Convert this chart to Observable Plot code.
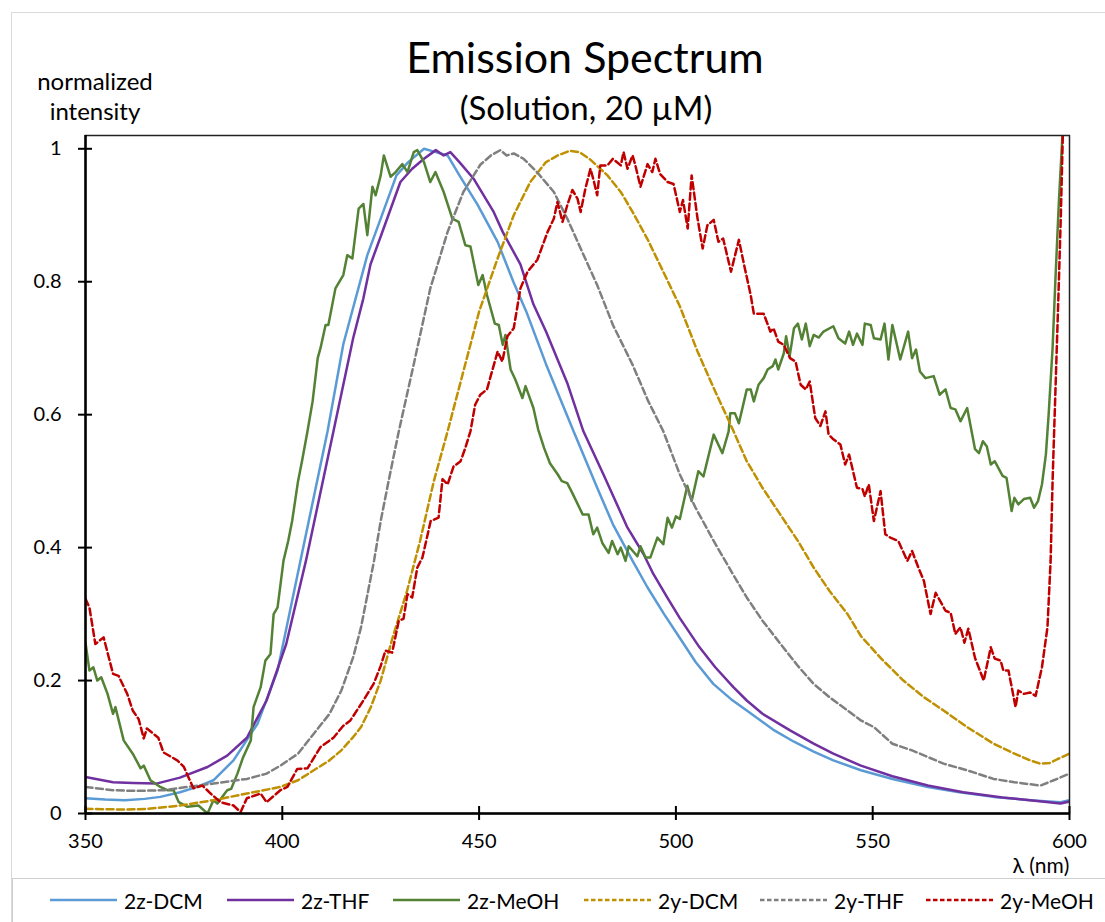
<!DOCTYPE html>
<html>
<head>
<meta charset="utf-8">
<script src="https://cdn.jsdelivr.net/npm/d3@7"></script>
<script src="https://cdn.jsdelivr.net/npm/@observablehq/plot@0.6"></script>
<style>
  body { margin: 0; background: #fff; font-family: Lato, "Open Sans", sans-serif; color: #000; }
  #wrap { position: relative; width: 1105px; height: 922px; overflow: hidden; }
  #outer { position: absolute; left: 11px; top: 12px; width: 1200px; height: 1000px; border: 1px solid #d9d9d9; }
  #chart { position: absolute; left: 0; top: 0; }
  .t { position: absolute; white-space: nowrap; }
  #title { left: 585px; top: 31px; transform: translateX(-50%); font-size: 43px; }
  #subtitle { left: 586px; top: 87px; transform: translateX(-50%); font-size: 33px; }
  #ylab { left: 95px; top: 66px; transform: translateX(-50%); font-size: 24px; text-align: center; line-height: 30px; }
  #xlab { left: 1041px; top: 855px; transform: translateX(-50%); font-size: 21px; line-height: 20px; }
  #legend { position: absolute; left: 12px; top: 878px; width: 1200px; height: 50px; border: 1px solid #cfcfcf; background: #fff; box-sizing: border-box; font-size: 21px; }
  .item { position: absolute; top: 0; height: 42px; display: flex; align-items: center; }
  .item svg { margin-right: 7px; }
</style>
</head>
<body>
<div id="wrap">
  <div id="outer"></div>
  <div id="chart"></div>
  <div class="t" id="title">Emission Spectrum</div>
  <div class="t" id="subtitle">(Solution, 20 µM)</div>
  <div class="t" id="ylab">normalized<br>intensity</div>
  <div class="t" id="xlab">λ (nm)</div>
  <div id="legend"></div>
</div>
<script>
// ---------------- data ----------------
const seriesNames = ["2z-DCM", "2z-THF", "2z-MeOH", "2y-DCM", "2y-THF", "2y-MeOH"];
const xTicks = [350, 400, 450, 500, 550, 600];
const yTicks = [0, 0.2, 0.4, 0.6, 0.8, 1];

const wl2zDCM = [350, 355, 360, 365, 369, 374, 378.4, 382.5, 387.6, 393.7, 398.8, 404.6, 411.5, 415.5, 421.6, 425, 429, 432, 436, 439, 442, 445, 449.6, 454.7, 458.7, 462, 467, 474, 480, 484, 489, 492.8, 497, 501, 505, 509.5, 514, 518, 525, 530, 535, 540, 547, 555, 564, 572, 580.7, 590, 597.7, 600];
const int2zDCM = [0.023, 0.021, 0.02, 0.022, 0.025, 0.032, 0.04, 0.05, 0.08, 0.135, 0.215, 0.38, 0.575, 0.706, 0.84, 0.895, 0.96, 0.98, 1.0, 0.995, 0.99, 0.96, 0.916, 0.86, 0.80, 0.755, 0.676, 0.575, 0.49, 0.435, 0.38, 0.34, 0.30, 0.264, 0.228, 0.195, 0.172, 0.155, 0.125, 0.108, 0.093, 0.08, 0.065, 0.052, 0.04, 0.032, 0.025, 0.02, 0.017, 0.02];

const wl2zTHF = [350, 357, 362, 368, 374, 381, 386, 391, 396, 401, 406, 413, 418, 420.6, 422.4, 425, 430, 433, 436, 439, 441, 442.7, 445, 448.6, 453.7, 456, 460.5, 463.8, 467, 472.5, 476.5, 481.6, 487.7, 491.8, 494.3, 497.9, 501, 506, 510, 514.6, 518, 522, 529, 535, 540, 547, 555, 564, 573, 583, 590, 597.7, 600];
const int2zTHF = [0.055, 0.047, 0.046, 0.045, 0.054, 0.07, 0.087, 0.114, 0.17, 0.255, 0.38, 0.575, 0.715, 0.775, 0.826, 0.868, 0.95, 0.97, 0.985, 0.998, 0.99, 0.995, 0.98, 0.955, 0.905, 0.875, 0.826, 0.766, 0.725, 0.646, 0.575, 0.51, 0.43, 0.39, 0.36, 0.324, 0.294, 0.25, 0.22, 0.19, 0.17, 0.15, 0.125, 0.105, 0.09, 0.072, 0.056, 0.042, 0.032, 0.024, 0.02, 0.015, 0.018];

const wl2zMeOH = [350, 351, 352, 353, 354, 355.6, 357, 357.6, 359.7, 362, 364, 364.8, 366.5, 369, 370.8, 372.4, 373.7, 375.9, 378.7, 381, 382.5, 383.5, 386, 387, 388.6, 390, 392, 392.7, 394.5, 395.7, 397, 397.8, 398.8, 400.3, 401.5, 402.5, 404, 405, 406.4, 407.7, 409, 409.7, 411, 411.7, 413.5, 415.5, 416.5, 417.8, 419.4, 420.6, 421.6, 422.9, 423.7, 425, 425.8, 427.5, 428.8, 430.5, 431.8, 433.4, 434.3, 436, 437.6, 438.9, 441, 443.2, 444.8, 446.5, 447.8, 449.8, 450.9, 452, 454, 455, 456, 456.7, 458, 459.2, 461, 461.8, 463.8, 465, 466.5, 468, 470, 471, 472.4, 473.7, 476.3, 477.8, 479, 480, 481.3, 482.9, 483.8, 485.2, 486, 487.2, 488, 490.2, 491, 492.3, 493.5, 495.3, 496.8, 497.9, 499, 500, 501, 502.9, 504, 505.7, 507, 509.6, 511.8, 513.4, 513.8, 515, 516, 517.3, 518, 519, 519.8, 521, 522.3, 523.3, 524.6, 525.3, 526, 527.4, 528, 528.9, 530, 531, 532, 533, 534, 535, 536.3, 537.5, 540, 541.3, 543, 544, 545, 546, 547.4, 548, 549.5, 550.3, 552, 553, 554, 555, 557, 559, 560, 561, 562, 563.4, 565.5, 567, 568.5, 569.8, 571, 572.3, 574, 576, 577, 578, 579, 580, 581, 583, 584, 585.3, 586, 587, 588.4, 590, 591, 592, 593, 594, 594.7, 595.7, 596.4, 597.3, 598.2];
const int2zMeOH = [0.257, 0.215, 0.22, 0.2, 0.205, 0.18, 0.15, 0.16, 0.11, 0.09, 0.068, 0.072, 0.05, 0.04, 0.035, 0.035, 0.017, 0.01, 0.012, 0.0, 0.02, 0.015, 0.035, 0.037, 0.06, 0.084, 0.11, 0.16, 0.19, 0.23, 0.24, 0.30, 0.31, 0.38, 0.41, 0.44, 0.50, 0.53, 0.575, 0.62, 0.685, 0.70, 0.735, 0.735, 0.79, 0.81, 0.84, 0.835, 0.91, 0.917, 0.87, 0.943, 0.93, 0.96, 0.99, 0.958, 0.965, 0.977, 0.965, 0.995, 0.998, 0.98, 0.95, 0.965, 0.935, 0.895, 0.89, 0.855, 0.853, 0.795, 0.81, 0.78, 0.737, 0.735, 0.705, 0.72, 0.668, 0.653, 0.625, 0.643, 0.61, 0.578, 0.55, 0.527, 0.51, 0.5, 0.497, 0.482, 0.45, 0.45, 0.42, 0.43, 0.407, 0.392, 0.41, 0.39, 0.40, 0.38, 0.402, 0.387, 0.402, 0.385, 0.385, 0.415, 0.405, 0.445, 0.43, 0.447, 0.443, 0.493, 0.47, 0.515, 0.507, 0.57, 0.542, 0.575, 0.602, 0.602, 0.587, 0.62, 0.638, 0.638, 0.62, 0.645, 0.655, 0.668, 0.673, 0.683, 0.668, 0.692, 0.718, 0.688, 0.73, 0.737, 0.713, 0.737, 0.703, 0.72, 0.716, 0.725, 0.733, 0.715, 0.707, 0.725, 0.705, 0.722, 0.705, 0.737, 0.735, 0.715, 0.713, 0.737, 0.683, 0.735, 0.683, 0.725, 0.685, 0.698, 0.665, 0.655, 0.658, 0.63, 0.638, 0.61, 0.608, 0.59, 0.61, 0.548, 0.542, 0.56, 0.552, 0.525, 0.53, 0.508, 0.505, 0.455, 0.475, 0.465, 0.473, 0.475, 0.46, 0.47, 0.495, 0.54, 0.6, 0.70, 0.80, 0.92, 1.02];

const wl2yDCM = [350, 360, 366, 374, 382.5, 391, 399.5, 404, 408, 412, 415, 418, 420, 422.5, 425, 428, 431.7, 435, 438.5, 442, 446, 450, 454.7, 458.8, 463, 467, 470, 473, 475.5, 478, 482.6, 486, 489, 492.7, 496.8, 501, 505.5, 509.6, 513.9, 518, 522, 526.5, 531, 535, 539, 543.6, 547, 552, 557.8, 563, 568, 574, 580.7, 586, 590, 592.6, 595, 597, 600];
const int2yDCM = [0.007, 0.006, 0.007, 0.012, 0.02, 0.03, 0.04, 0.05, 0.065, 0.08, 0.095, 0.115, 0.13, 0.16, 0.2, 0.264, 0.335, 0.41, 0.5, 0.575, 0.665, 0.755, 0.835, 0.9, 0.95, 0.98, 0.99, 0.997, 0.995, 0.985, 0.96, 0.935, 0.905, 0.865, 0.815, 0.763, 0.695, 0.64, 0.585, 0.53, 0.49, 0.45, 0.41, 0.37, 0.335, 0.30, 0.267, 0.234, 0.2, 0.175, 0.155, 0.13, 0.105, 0.09, 0.08, 0.075, 0.076, 0.082, 0.09];

const wl2yTHF = [350, 357, 363, 370, 376, 382.5, 391, 396, 399.5, 404, 408, 412, 415, 418, 420, 423.3, 425, 427, 429.6, 433.4, 437.6, 442, 446, 450.3, 453, 455.4, 457, 458.8, 461.3, 464.7, 469, 472.4, 475.8, 480, 484, 489, 493, 496.8, 501, 505, 509.6, 514, 518, 522, 526.6, 531, 535, 539, 543.6, 547, 550.3, 555, 560, 568, 574, 580.7, 586, 592.6, 596, 600];
const int2yTHF = [0.04, 0.035, 0.034, 0.035, 0.04, 0.045, 0.052, 0.06, 0.072, 0.09, 0.12, 0.15, 0.185, 0.235, 0.28, 0.38, 0.44, 0.5, 0.575, 0.676, 0.79, 0.875, 0.935, 0.976, 0.99, 0.998, 0.99, 0.993, 0.985, 0.965, 0.935, 0.895, 0.85, 0.795, 0.735, 0.675, 0.62, 0.575, 0.51, 0.46, 0.41, 0.365, 0.325, 0.29, 0.255, 0.222, 0.195, 0.175, 0.155, 0.14, 0.13, 0.105, 0.095, 0.075, 0.065, 0.052, 0.047, 0.042, 0.05, 0.06];

const wl2yMeOH = [350, 351, 352.5, 354.6, 357, 358.4, 360.6, 362, 363.5, 364.8, 365.6, 368.5, 369.8, 373.3, 375, 377.4, 379.7, 381.8, 384.3, 387.6, 389.4, 391, 394.5, 396, 399.5, 401.3, 403.8, 406.4, 409.7, 413, 415.5, 417.3, 420.6, 423.2, 425, 426.2, 427.9, 429.6, 430.8, 431.8, 433, 434.3, 435.6, 437.7, 439.7, 440.7, 442, 443.5, 445.3, 446.5, 447.8, 449, 450.3, 452, 454.7, 455.9, 457.2, 458.8, 460.5, 462.3, 464.8, 467.4, 469, 469.9, 471.2, 472.4, 473.7, 475, 475.8, 477, 478.3, 479.2, 480, 480.8, 482.6, 484, 486, 486.7, 487.7, 489, 489.7, 491, 492.8, 494, 494.8, 496, 497.9, 499.4, 501, 501.8, 503, 504, 505.5, 506.8, 508, 509.6, 510.8, 512, 514, 516, 517.3, 519, 519.8, 522.3, 524, 524.8, 526, 527.4, 529, 530.4, 531.7, 533, 534, 535.4, 536.7, 538, 538.8, 540, 541.8, 543, 544, 546, 547.4, 548, 549, 550.3, 552, 553.2, 554.5, 556.5, 558.8, 560, 561.6, 563, 564.7, 566, 568.5, 569.8, 571, 572.3, 573.3, 574.3, 576, 578.2, 580, 581, 582.5, 583.2, 584.5, 586.3, 587, 588.4, 590, 591.4, 593, 594.4, 595.2, 595.7, 596.5, 597.3, 597.8, 598.3];
const int2yMeOH = [0.323, 0.31, 0.255, 0.265, 0.21, 0.207, 0.18, 0.155, 0.142, 0.113, 0.128, 0.114, 0.092, 0.08, 0.07, 0.038, 0.042, 0.03, 0.017, 0.012, 0.002, 0.023, 0.03, 0.017, 0.035, 0.04, 0.067, 0.068, 0.1, 0.114, 0.132, 0.14, 0.17, 0.195, 0.222, 0.245, 0.242, 0.29, 0.293, 0.33, 0.325, 0.37, 0.385, 0.44, 0.445, 0.503, 0.495, 0.522, 0.53, 0.55, 0.575, 0.615, 0.63, 0.638, 0.695, 0.68, 0.718, 0.73, 0.79, 0.815, 0.833, 0.875, 0.895, 0.92, 0.89, 0.915, 0.938, 0.925, 0.905, 0.94, 0.97, 0.95, 0.93, 0.975, 0.975, 0.985, 0.975, 0.995, 0.97, 0.99, 0.975, 0.943, 0.977, 0.965, 0.985, 0.962, 0.95, 0.947, 0.905, 0.923, 0.88, 0.96, 0.895, 0.85, 0.885, 0.893, 0.86, 0.865, 0.815, 0.863, 0.826, 0.78, 0.752, 0.752, 0.725, 0.73, 0.71, 0.705, 0.685, 0.68, 0.645, 0.638, 0.65, 0.595, 0.583, 0.605, 0.57, 0.563, 0.555, 0.525, 0.54, 0.49, 0.488, 0.477, 0.495, 0.44, 0.485, 0.42, 0.415, 0.41, 0.38, 0.395, 0.37, 0.35, 0.3, 0.332, 0.305, 0.302, 0.27, 0.28, 0.257, 0.278, 0.234, 0.2, 0.25, 0.233, 0.23, 0.215, 0.215, 0.16, 0.185, 0.18, 0.182, 0.177, 0.22, 0.28, 0.38, 0.5, 0.65, 0.8, 0.9, 1.02];

// ---------------- styles ----------------
const seriesColors = ["#5B9BD5", "#7030A0", "#548235", "#BF9000", "#7F7F7F", "#C00000"];
const seriesDash = [null, null, null, "7,3.5", "7,3.5", "7,3.5"];
const legendDash = [null, null, null, "4.5,2.5", "4.5,2.5", "4.5,2.5"];
const legendLeft = [37, 214, 380, 571, 747, 913];

const wlArrays = [wl2zDCM, wl2zTHF, wl2zMeOH, wl2yDCM, wl2yTHF, wl2yMeOH];
const intArrays = [int2zDCM, int2zTHF, int2zMeOH, int2yDCM, int2yTHF, int2yMeOH];

const rows = seriesNames.map((name, s) =>
  wlArrays[s].map((wl, i) => ({series: name, wl, v: intArrays[s][i]})));

const lineMarks = rows.map((data, s) => Plot.line(data, {
  x: "wl", y: "v", stroke: seriesColors[s], strokeWidth: 2.5,
  strokeDasharray: seriesDash[s] || undefined, clip: true,
  strokeLinejoin: "round"
}));

const chart = Plot.plot({
  width: 1105,
  height: 878,
  marginLeft: 85,
  marginRight: 36,
  marginTop: 135,
  marginBottom: 65,
  style: {fontFamily: "Lato, 'Open Sans', sans-serif", fontSize: "20px", color: "#000", background: "transparent"},
  x: {domain: [350, 600]},
  y: {domain: [0, 1.02]},
  marks: [
    ...lineMarks,
    Plot.frame({stroke: "#222", strokeWidth: 1.5}),
    Plot.ruleX([xTicks[0]], {stroke: "#000", strokeWidth: 2.5}),
    Plot.ruleY([yTicks[0]], {stroke: "#000", strokeWidth: 2.5}),
    Plot.axisX(xTicks, {tickSize: 14, dy: -7, fill: "none", stroke: "#000", strokeWidth: 2}),
    Plot.axisX(xTicks, {tickSize: 0, tickPadding: 20, label: null, fontSize: 20}),
    Plot.axisY(yTicks, {tickSize: 14, dx: 7, fill: "none", stroke: "#000", strokeWidth: 2}),
    Plot.axisY(yTicks, {tickSize: 0, tickPadding: 24, label: null, fontSize: 20, tickFormat: d => String(d)})
  ]
});
document.getElementById("chart").appendChild(chart);

// ---------------- legend ----------------
const legend = document.getElementById("legend");
seriesNames.forEach((name, s) => {
  const item = document.createElement("div");
  item.className = "item";
  item.style.left = legendLeft[s] + "px";
  const dash = legendDash[s] ? ` stroke-dasharray="${legendDash[s]}"` : "";
  item.innerHTML = `<svg width="67" height="10"><line x1="0" y1="5" x2="67" y2="5" stroke="${seriesColors[s]}" stroke-width="2.5"${dash}/></svg><span>${name}</span>`;
  legend.appendChild(item);
});
</script>
</body>
</html>
